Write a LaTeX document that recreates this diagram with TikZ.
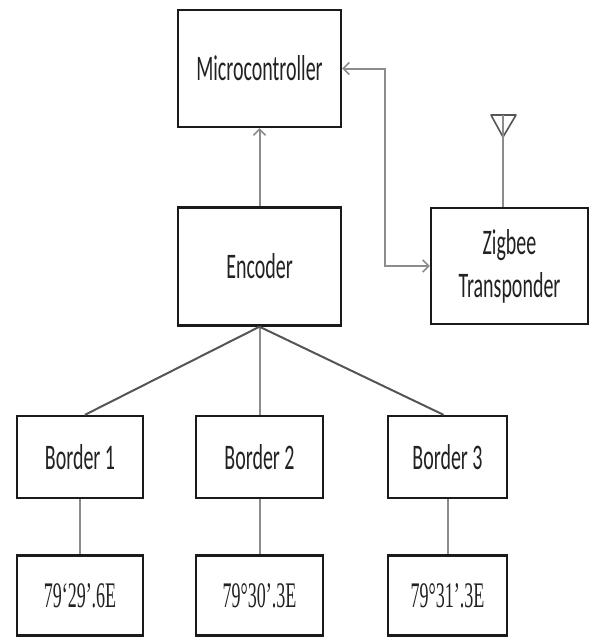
\documentclass[tikz,border=0pt]{standalone}
\usepackage{fontspec}
\usepackage{graphicx}
\setmainfont{Carlito}
\newfontfamily\tnr{Liberation Serif}
\usetikzlibrary{arrows.meta,calc}
\definecolor{boxc}{HTML}{1A1A1A}
\definecolor{txtc}{HTML}{222222}
\definecolor{linec}{HTML}{8C8C8C}
\definecolor{diagc}{HTML}{555555}
\newcommand\sq[1]{\scalebox{0.555}[1]{#1}}
\newcommand\sqt[1]{\scalebox{0.5}[1]{\tnr #1}}
\begin{document}
\begin{tikzpicture}[x=1pt,y=-1pt,
  box/.style={draw=boxc,line width=2.4pt,fill=white,inner sep=0pt,text=txtc,
    font=\fontsize{36}{43}\selectfont,align=center},
  conn/.style={draw=linec,line width=2pt},
  diag/.style={draw=diagc,line width=2pt},
  arr/.style={conn,-{Straight Barb[length=6pt,width=12pt,line width=1.6pt]}},
  darr/.style={conn,{Straight Barb[length=6pt,width=12pt,line width=1.6pt]}-{Straight Barb[length=6pt,width=12pt,line width=1.6pt]}}]
\useasboundingbox (0,0) rectangle (590,637);
\node[box,minimum width=163,minimum height=117] (mc) at (259.5,68.5) {\sq{Microcontroller}};
\node[box,minimum width=163,minimum height=118] (enc) at (259.5,266.5) {\sq{Encoder}};
\node[box,minimum width=157,minimum height=116] (zig) at (509.5,266) {\sq{Zigbee}\\\sq{Transponder}};
\node[box,minimum width=126,minimum height=82] (b1) at (80,457) {\sq{Border 1}};
\node[box,minimum width=127,minimum height=82] (b2) at (259.5,457) {\sq{Border 2}};
\node[box,minimum width=119,minimum height=82] (b3) at (447.5,457) {\sq{Border 3}};
\node[box,minimum width=126,minimum height=80] (c1) at (80,595.5) {\sqt{79‘29’.6E}};
\node[box,minimum width=127,minimum height=80] (c2) at (259.5,595.5) {\sqt{79°30’.3E}};
\node[box,minimum width=119,minimum height=80] (c3) at (447.5,595.5) {\sqt{79°31’.3E}};
% encoder -> microcontroller
\draw[arr] (enc.north) -- (mc.south);
% microcontroller <-> zigbee
\coordinate (bend1) at (385,68.5);
\coordinate (bend2) at (385,266);
\draw[darr] (mc.east) -- (bend1) -- (bend2) -- (zig.west);
% antenna
\coordinate (anttop) at (503,115);
\coordinate (antbase) at (503,207);
\draw[draw=diagc,line width=1.6pt,line join=round] (491,115) -- (516,115) -- (503,137) -- cycle;
\draw[conn] (anttop) -- (antbase);
% encoder -> borders
\draw[diag] (enc.south) -- ($(b1.north)+(5,0)$);
\draw[conn] (enc.south) -- (b2.north);
\draw[diag] (enc.south) -- ($(b3.north)+(-4,0)$);
% borders -> coordinates
\draw[conn] (b1.south) -- (c1.north);
\draw[conn] (b2.south) -- (c2.north);
\draw[conn] (b3.south) -- (c3.north);
\end{tikzpicture}
\end{document}
